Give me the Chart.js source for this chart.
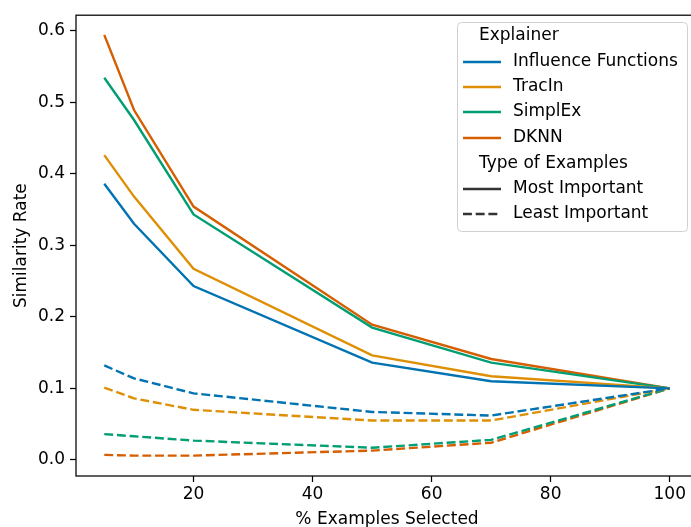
<!DOCTYPE html>
<html>
<head>
<meta charset="utf-8">
<script src="https://cdn.jsdelivr.net/npm/chart.js@4.4.1/dist/chart.umd.min.js"></script>
<style>
html,body{margin:0;padding:0;background:#fff;overflow:hidden;}
#wrap{width:691px;height:527px;overflow:hidden;position:relative;}
canvas{display:block;}
</style>
</head>
<body>
<div id="wrap"><canvas id="c" width="760" height="527"></canvas></div>
<script>
// ---- data ----
const percentSelected = [5, 10, 20, 50, 70, 100];
const explainers = ["Influence Functions", "TracIn", "SimplEx", "DKNN"];
const exampleTypes = ["Most Important", "Least Important"];

const mostInfluence = [0.386, 0.330, 0.243, 0.136, 0.110, 0.100];
const mostTracIn    = [0.426, 0.368, 0.267, 0.146, 0.117, 0.100];
const mostSimplEx   = [0.534, 0.475, 0.343, 0.185, 0.136, 0.100];
const mostDKNN      = [0.594, 0.489, 0.354, 0.189, 0.141, 0.100];

const leastInfluence = [0.132, 0.114, 0.093, 0.067, 0.062, 0.100];
const leastTracIn    = [0.101, 0.086, 0.070, 0.055, 0.055, 0.100];
const leastSimplEx   = [0.036, 0.033, 0.027, 0.017, 0.028, 0.100];
const leastDKNN      = [0.007, 0.006, 0.006, 0.013, 0.024, 0.100];

const xTicks = [20, 40, 60, 80, 100];
const yTicks = [0.0, 0.1, 0.2, 0.3, 0.4, 0.5, 0.6];

const colors = ["#0173b2", "#de8f05", "#029e73", "#d55e00"];
const mostSeries = [mostInfluence, mostTracIn, mostSimplEx, mostDKNN];
const leastSeries = [leastInfluence, leastTracIn, leastSimplEx, leastDKNN];

const FONT = "'DejaVu Sans', sans-serif";
const FS = 17;
const toPts = arr => arr.map((v, i) => ({x: percentSelected[i], y: v}));

const datasets = [];
explainers.forEach((name, i) => {
  datasets.push({label: name + " - " + exampleTypes[0], data: toPts(mostSeries[i]),
    borderColor: colors[i], borderWidth: 2.4, pointRadius: 0, fill: false, tension: 0});
});
explainers.forEach((name, i) => {
  datasets.push({label: name + " - " + exampleTypes[1], data: toPts(leastSeries[i]),
    borderColor: colors[i], borderWidth: 2.4, borderDash: [8.9, 3.8], pointRadius: 0, fill: false, tension: 0});
});

const framePlugin = {
  id: 'frame',
  afterDraw(chart) {
    const {ctx, chartArea: a} = chart;
    ctx.save();
    ctx.strokeStyle = '#000';
    ctx.lineWidth = 1.25;
    ctx.strokeRect(a.left, a.top, a.right - a.left, a.bottom - a.top);
    ctx.restore();
  }
};

const legendPlugin = {
  id: 'customLegend',
  afterDraw(chart) {
    const ctx = chart.ctx;
    const bx = 457.5, by = 22.5, bw = 230, bh = 209, r = 4;
    ctx.save();
    ctx.beginPath();
    ctx.moveTo(bx + r, by);
    ctx.arcTo(bx + bw, by, bx + bw, by + bh, r);
    ctx.arcTo(bx + bw, by + bh, bx, by + bh, r);
    ctx.arcTo(bx, by + bh, bx, by, r);
    ctx.arcTo(bx, by, bx + bw, by, r);
    ctx.closePath();
    ctx.fillStyle = 'rgba(255,255,255,0.8)';
    ctx.fill();
    ctx.strokeStyle = '#d0d0d0';
    ctx.lineWidth = 1;
    ctx.stroke();

    ctx.font = FS + 'px ' + FONT;
    ctx.fillStyle = '#000';
    ctx.textBaseline = 'middle';
    ctx.textAlign = 'left';
    const rowY = [36, 62, 87, 112, 138, 164, 189, 214];
    const entries = [
      {title: "Explainer"},
      {text: explainers[0], color: colors[0]},
      {text: explainers[1], color: colors[1]},
      {text: explainers[2], color: colors[2]},
      {text: explainers[3], color: colors[3]},
      {title: "Type of Examples"},
      {text: exampleTypes[0], color: '#333333'},
      {text: exampleTypes[1], color: '#333333', dash: true}
    ];
    entries.forEach((e, i) => {
      const y = rowY[i];
      if (e.title) {
        ctx.fillStyle = '#000';
        ctx.fillText(e.title, 479, y);
      } else {
        ctx.beginPath();
        ctx.strokeStyle = e.color;
        ctx.lineWidth = 2.4;
        ctx.setLineDash(e.dash ? [8.9, 3.8] : []);
        ctx.moveTo(463, y);
        ctx.lineTo(501, y);
        ctx.stroke();
        ctx.setLineDash([]);
        ctx.fillStyle = '#000';
        ctx.fillText(e.text, 513, y);
      }
    });
    ctx.restore();
  }
};

new Chart(document.getElementById('c'), {
  type: 'line',
  data: {datasets},
  plugins: [framePlugin, legendPlugin],
  options: {
    responsive: false,
    animation: false,
    layout: {padding: {top: 13, right: 62, left: 0, bottom: 0}},
    plugins: {legend: {display: false}, tooltip: {enabled: false}},
    elements: {line: {borderCapStyle: 'butt', borderJoinStyle: 'miter'}},
    scales: {
      x: {
        type: 'linear',
        min: 0.25, max: 104.75,
        afterFit(s) { s.height = 51; },
        afterBuildTicks(s) { s.ticks = xTicks.map(v => ({value: v})); },
        grid: {display: true, drawOnChartArea: false, drawTicks: true, tickLength: 6, tickColor: '#000', tickWidth: 1.25},
        border: {display: false},
        ticks: {color: '#000', font: {family: FONT, size: FS}, padding: 2, maxRotation: 0,
          callback: v => String(v)},
        title: {display: true, text: '% Examples Selected', color: '#000', font: {family: FONT, size: FS}, padding: {top: 0, bottom: -3}}
      },
      y: {
        type: 'linear',
        min: -0.0225, max: 0.6215,
        afterFit(s) { s.width = 76; },
        afterBuildTicks(s) { s.ticks = yTicks.map(v => ({value: v})); },
        grid: {display: true, drawOnChartArea: false, drawTicks: true, tickLength: 6, tickColor: '#000', tickWidth: 1.25},
        border: {display: false},
        ticks: {color: '#000', font: {family: FONT, size: FS}, padding: 5,
          callback: v => Number(v).toFixed(1)},
        title: {display: true, text: 'Similarity Rate', color: '#000', font: {family: FONT, size: FS}, padding: {top: 11, bottom: 0}}
      }
    }
  }
});
</script>
</body>
</html>
